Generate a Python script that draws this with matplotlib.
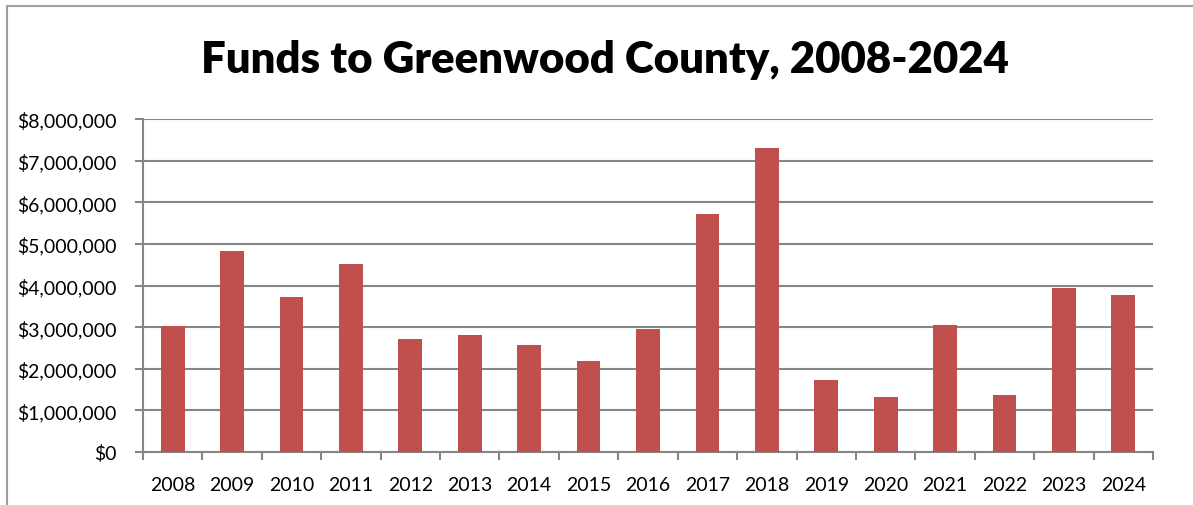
import numpy as np
import matplotlib
matplotlib.use("Agg")
import matplotlib.pyplot as plt
from matplotlib.lines import Line2D
from matplotlib.ticker import FuncFormatter, FixedLocator

years = ["2008", "2009", "2010", "2011", "2012", "2013", "2014", "2015", "2016",
         "2017", "2018", "2019", "2020", "2021", "2022", "2023", "2024"]
funds = [3020000, 4820000, 3720000, 4510000, 2720000, 2800000, 2580000, 2190000,
         2960000, 5710000, 7300000, 1730000, 1320000, 3040000, 1380000, 3940000, 3780000]

plt.rcParams['font.family'] = ['Lato', 'DejaVu Sans']

fig = plt.figure(figsize=(11.93, 5.06), dpi=100)
ax = fig.add_axes([143/1193, 1-453/506, (1153-143)/1193, (453-120)/506])

x = np.arange(len(years))
ax.bar(x, funds, width=0.40, color="#C0504D", zorder=3)

ax.set_xlim(-0.5, len(years)-0.5)
ax.set_ylim(0, 8000000)
ax.set_yticks(np.arange(0, 8000001, 1000000))
ax.yaxis.set_major_formatter(FuncFormatter(lambda v, p: "${:,.0f}".format(v)))
ax.yaxis.grid(True, color="#868686", linewidth=1.5, zorder=0)

# category labels at centres, tick marks at boundaries
ax.xaxis.set_major_locator(FixedLocator(np.arange(-0.5, len(years), 1.0)))
ax.xaxis.set_minor_locator(FixedLocator(x))
ax.set_xticklabels([], minor=False)
ax.set_xticklabels(years, minor=True)
ax.tick_params(axis="x", which="major", length=6, width=1.5, color="#868686", direction="out")
ax.tick_params(axis="x", which="minor", length=0, labelsize=14, pad=17)
ax.tick_params(axis="y", length=6, width=1.5, color="#868686", labelsize=14, pad=13)

for s in ["top", "right"]:
    ax.spines[s].set_visible(False)
for s in ["left", "bottom"]:
    ax.spines[s].set_color("#868686")
    ax.spines[s].set_linewidth(1.5)

fig.text(605/1193, 1-60/506, "Funds to Greenwood County, 2008-2024",
         ha="center", va="center", fontsize=31.5, fontweight="heavy")

# outer chart border (left and top visible)
fig.add_artist(Line2D([7/1193, 7/1193], [0, 1-7/506], color="#A0A0A0", linewidth=1.5))
fig.add_artist(Line2D([7/1193, 1], [1-7/506, 1-7/506], color="#A0A0A0", linewidth=1.5))

fig.savefig("out.png", dpi=100)
